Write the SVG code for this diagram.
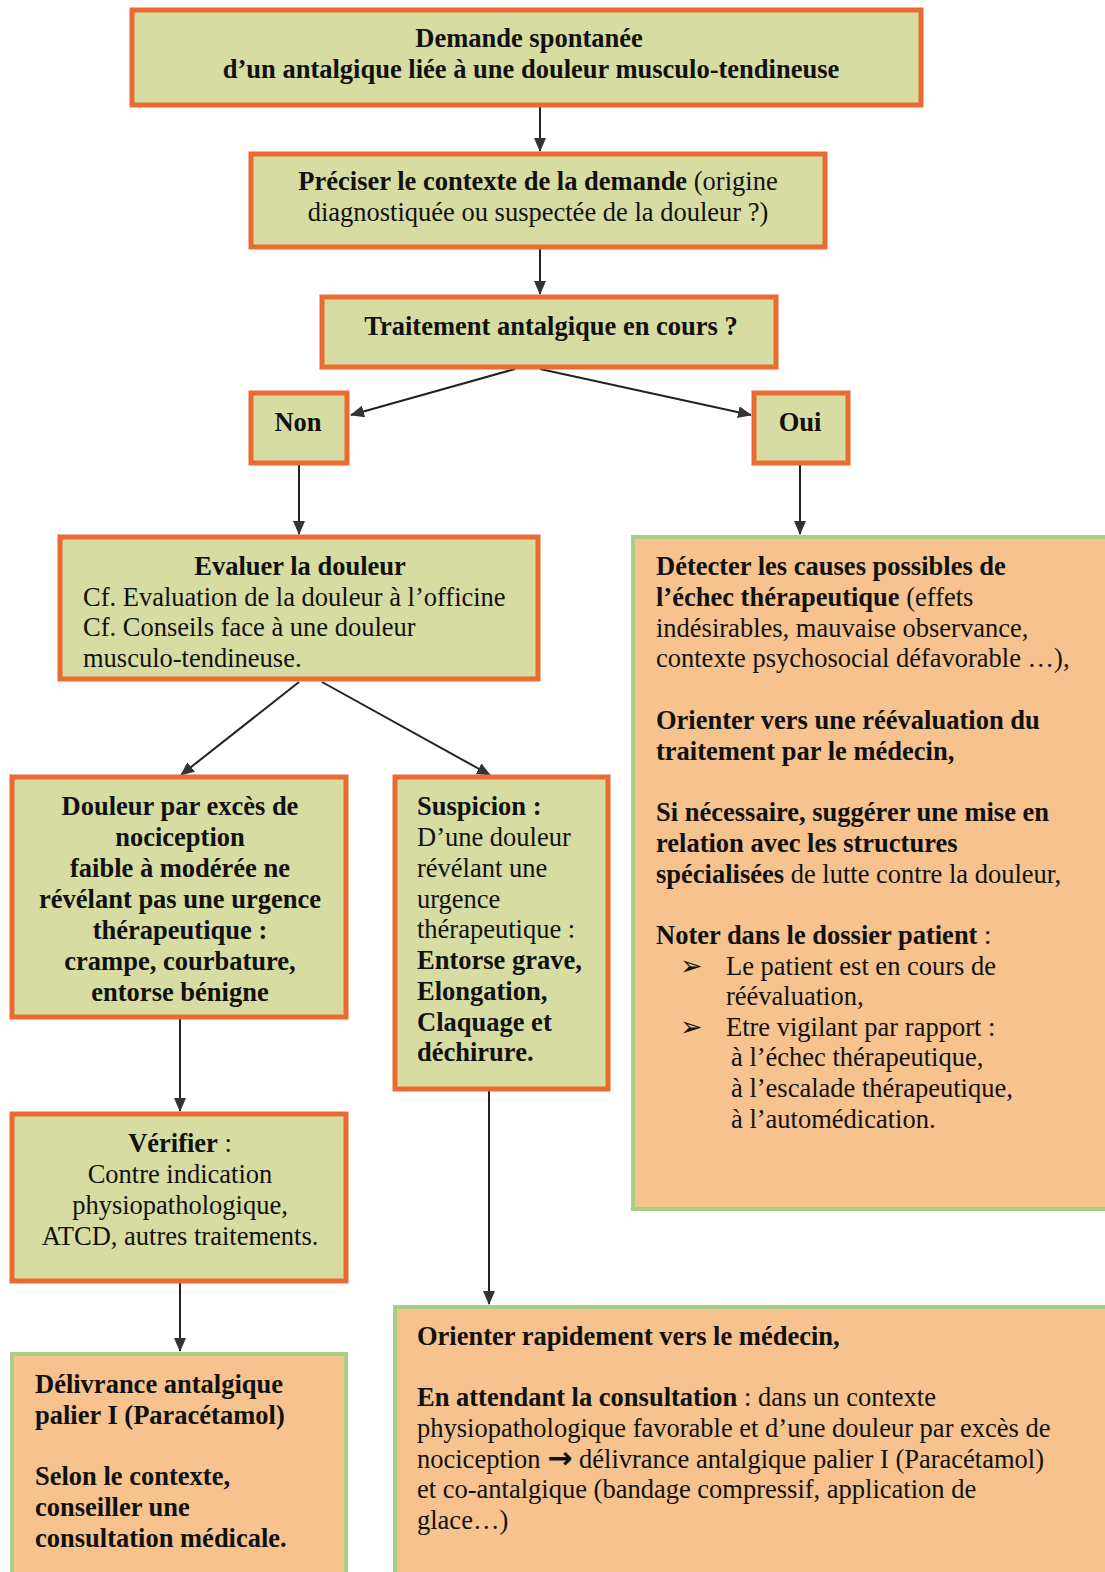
<svg xmlns="http://www.w3.org/2000/svg" width="1105" height="1572" viewBox="0 0 1105 1572">
<style>
.g{fill:#d6dca2;stroke:#ea6a32;stroke-width:5}
.o{fill:#f6c28e;stroke:#a9cf86;stroke-width:4}
text{font-family:"Liberation Serif","Times New Roman",serif;font-size:26.5px;fill:#111}
.b{font-weight:bold}
.c{text-anchor:middle}
.ar{font-family:"DejaVu Sans",sans-serif;font-size:30px;font-weight:bold}
.ln{stroke:#222;stroke-width:2;fill:none;marker-end:url(#ah)}
</style>
<defs>
<marker id="ah" viewBox="0 0 14 12" refX="13" refY="6" markerWidth="14" markerHeight="12" markerUnits="userSpaceOnUse" orient="auto">
<path d="M0,0 L14,6 L0,12 Z" fill="#333"/>
</marker>
</defs>
<rect width="1105" height="1572" fill="#fff"/>
<g id="connectors">
<line class="ln" x1="540" y1="107" x2="540" y2="151"/>
<line class="ln" x1="540" y1="249" x2="540" y2="294"/>
<line class="ln" x1="515" y1="369" x2="351" y2="415"/>
<line class="ln" x1="540" y1="369" x2="751" y2="415"/>
<line class="ln" x1="299" y1="465" x2="299" y2="534"/>
<line class="ln" x1="800" y1="465" x2="800" y2="534"/>
<line class="ln" x1="299" y1="682" x2="181" y2="775"/>
<line class="ln" x1="322" y1="682" x2="490" y2="775"/>
<line class="ln" x1="180" y1="1019" x2="180" y2="1111"/>
<line class="ln" x1="180" y1="1283" x2="180" y2="1351"/>
<line class="ln" x1="489" y1="1091" x2="489" y2="1304"/>
</g>
<g id="n1">
<rect class="g" x="132" y="10" width="789" height="95"/>
<text class="b c" x="529" y="47">Demande spontanée</text>
<text class="b c" x="531" y="78">d’un antalgique liée à une douleur musculo-tendineuse</text>
</g>
<g id="n2">
<rect class="g" x="251" y="154" width="574" height="93"/>
<text class="c" x="538" y="190"><tspan class="b">Préciser  le contexte de la demande</tspan> (origine</text>
<text class="c" x="538" y="221">diagnostiquée ou suspectée de la douleur ?)</text>
</g>
<g id="n3">
<rect class="g" x="322" y="297" width="454" height="70"/>
<text class="b c" x="551" y="335">Traitement antalgique en cours ?</text>
</g>
<g id="n4">
<rect class="g" x="251" y="393" width="96" height="70"/>
<text class="b c" x="298" y="431">Non</text>
</g>
<g id="n5">
<rect class="g" x="754" y="393" width="94" height="70"/>
<text class="b c" x="800" y="431">Oui</text>
</g>
<g id="n6">
<rect class="g" x="60" y="537" width="478" height="142"/>
<text class="b c" x="300" y="575">Evaluer la douleur</text>
<text x="83" y="606">Cf. Evaluation de la douleur à l’officine</text>
<text x="83" y="636">Cf. Conseils face à une douleur</text>
<text x="83" y="667">musculo-tendineuse.</text>
</g>
<g id="n7">
<rect class="o" x="633" y="537" width="474" height="672"/>
<text x="656" y="575" class="b">Détecter les causes possibles de</text>
<text x="656" y="606"><tspan class="b">l’échec thérapeutique</tspan> (effets</text>
<text x="656" y="637">indésirables, mauvaise observance,</text>
<text x="656" y="667">contexte psychosocial défavorable …),</text>
<text x="656" y="729" class="b">Orienter vers une réévaluation du</text>
<text x="656" y="760" class="b">traitement par le médecin,</text>
<text x="656" y="821" class="b">Si nécessaire, suggérer une mise en</text>
<text x="656" y="852" class="b">relation avec les structures</text>
<text x="656" y="883"><tspan class="b">spécialisées</tspan> de lutte contre la douleur,</text>
<text x="656" y="944"><tspan class="b">Noter dans le dossier patient</tspan> :</text>
<text x="680" y="975">➢</text>
<text x="726" y="975">Le patient est en cours de</text>
<text x="726" y="1005">réévaluation,</text>
<text x="680" y="1036">➢</text>
<text x="726" y="1036">Etre vigilant par rapport :</text>
<text x="731" y="1066">à l’échec thérapeutique,</text>
<text x="731" y="1097">à l’escalade thérapeutique,</text>
<text x="731" y="1128">à l’automédication.</text>
</g>
<g id="n8">
<rect class="g" x="12" y="777" width="334" height="240"/>
<text class="b c" x="180" y="815">Douleur par excès de</text>
<text class="b c" x="180" y="846">nociception</text>
<text class="b c" x="180" y="877">faible à modérée ne</text>
<text class="b c" x="180" y="908">révélant pas une urgence</text>
<text class="b c" x="180" y="939">thérapeutique :</text>
<text class="b c" x="180" y="970">crampe, courbature,</text>
<text class="b c" x="180" y="1001">entorse bénigne</text>
</g>
<g id="n9">
<rect class="g" x="395" y="777" width="213" height="312"/>
<text x="417" y="815" class="b">Suspicion :</text>
<text x="417" y="846">D’une douleur</text>
<text x="417" y="877">révélant une</text>
<text x="417" y="908">urgence</text>
<text x="417" y="938">thérapeutique :</text>
<text x="417" y="969" class="b">Entorse grave,</text>
<text x="417" y="1000" class="b">Elongation,</text>
<text x="417" y="1031" class="b">Claquage et</text>
<text x="417" y="1061" class="b">déchirure.</text>
</g>
<g id="n10">
<rect class="g" x="12" y="1114" width="334" height="167"/>
<text class="c" x="180" y="1152"><tspan class="b">Vérifier</tspan> :</text>
<text class="c" x="180" y="1183">Contre indication</text>
<text class="c" x="180" y="1214">physiopathologique,</text>
<text class="c" x="180" y="1245">ATCD, autres traitements.</text>
</g>
<g id="n11">
<rect class="o" x="12" y="1354" width="334" height="222"/>
<text x="35" y="1393" class="b">Délivrance antalgique</text>
<text x="35" y="1424" class="b">palier I (Paracétamol)</text>
<text x="35" y="1485" class="b">Selon le contexte,</text>
<text x="35" y="1516" class="b">conseiller une</text>
<text x="35" y="1547" class="b">consultation médicale.</text>
</g>
<g id="n12">
<rect class="o" x="395" y="1307" width="714" height="270"/>
<text x="417" y="1345" class="b">Orienter rapidement vers le médecin,</text>
<text x="417" y="1406"><tspan class="b">En attendant la consultation</tspan> : dans un contexte</text>
<text x="417" y="1437">physiopathologique favorable et d’une douleur par excès de</text>
<text x="417" y="1468">nociception <tspan class="ar">→</tspan> délivrance antalgique palier I (Paracétamol)</text>
<text x="417" y="1498">et co-antalgique (bandage compressif, application de</text>
<text x="417" y="1529">glace…)</text>
</g>
</svg>
